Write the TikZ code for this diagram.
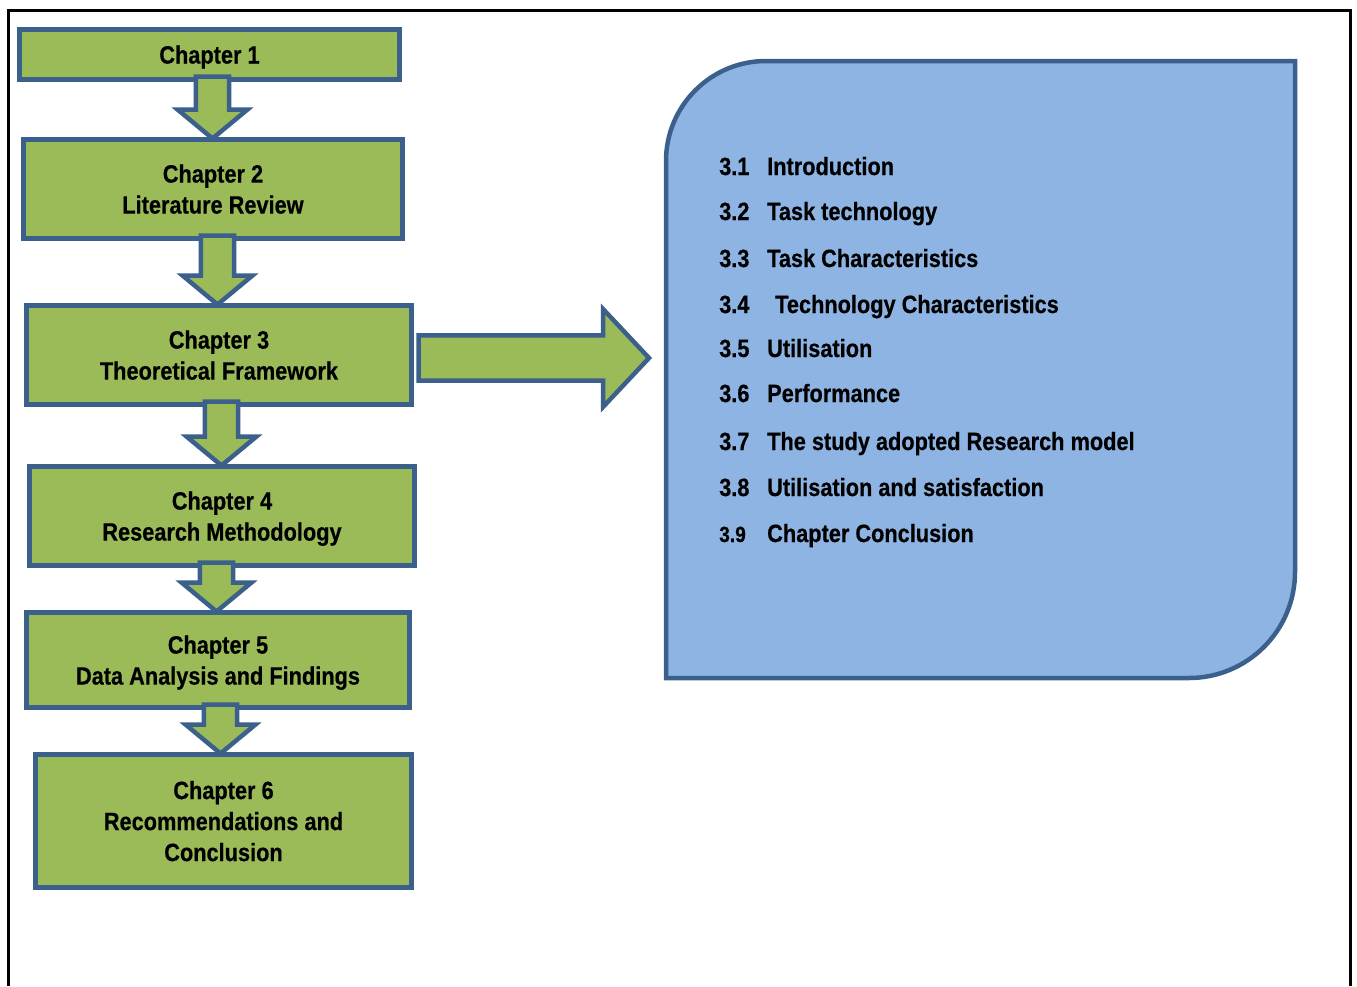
\documentclass[tikz,border=0pt]{standalone}
\usepackage{fontspec}
\setmainfont{Liberation Sans}
\newfontfamily\narrowsans{Liberation Sans}[FakeStretch=0.87,FakeBold=0.5]
\usetikzlibrary{calc}

\definecolor{leaf}{RGB}{155,187,89}
\definecolor{edge}{RGB}{60,96,140}
\definecolor{sky}{RGB}{142,180,227}

\tikzset{
  chapbox/.style={draw=edge, fill=leaf, line width=4.5pt, inner sep=0pt, outer sep=0pt,
    align=center, text depth=-3pt,
    font=\narrowsans\bfseries\fontsize{25}{31}\selectfont},
  blockarrow/.style={draw=edge, fill=leaf, line width=4.5pt, line join=miter},
  sectpanel/.style={draw=edge, fill=sky, line width=4.5pt},
  sectnum/.style={anchor=base west, inner sep=0pt, font=\narrowsans\bfseries\fontsize{25}{30}\selectfont},
  sectnumsmall/.style={sectnum, font=\narrowsans\bfseries\fontsize{22}{26}\selectfont},
  secttext/.style={sectnum},
  pageframe/.style={draw=black, line width=2.5pt},
}

% block arrow pointing down from one chapter box to the next (#3: horizontal shift)
\newcommand{\dropblock}[3]{%
  \draw[blockarrow] let \p1=(#1.south), \p2=(#2.north) in
    (\x1+#3-16.7pt,\y1+3pt) -- (\x1+#3+16.7pt,\y1+3pt) -- (\x1+#3+16.7pt,\y2+30pt)
    -- (\x1+#3+35pt,\y2+30pt) -- (\x1+#3,\y2+1pt) -- (\x1+#3-35pt,\y2+30pt)
    -- (\x1+#3-16.7pt,\y2+30pt) -- cycle;}

\begin{document}
\begin{tikzpicture}[x=1pt,y=-1pt]
\useasboundingbox (0,0) rectangle (1357,986);

% page frame, open at the bottom
\draw[pageframe] (8.5,986) -- (8.5,10.5) -- (1350.3,10.5) -- (1350.3,986);

% chapter boxes
\node[chapbox, minimum width=380, minimum height=50] (c1) at (209.5,54.5) {Chapter 1};
\node[chapbox, minimum width=379, minimum height=99] (c2) at (213,189) {Chapter 2\\Literature Review};
\node[chapbox, minimum width=385, minimum height=99] (c3) at (219,355) {Chapter 3\\Theoretical Framework};
\node[chapbox, minimum width=385, minimum height=99] (c4) at (222,516) {Chapter 4\\Research Methodology};
\node[chapbox, minimum width=383, minimum height=95] (c5) at (218,660) {Chapter 5\\Data Analysis and Findings};
\node[chapbox, minimum width=376, minimum height=133] (c6) at (223.5,821) {Chapter 6\\Recommendations and\\Conclusion};

% arrows between chapters
\dropblock{c1}{c2}{3pt}
\dropblock{c2}{c3}{4.5pt}
\dropblock{c3}{c4}{2.5pt}
\dropblock{c4}{c5}{0pt-5.5pt}
\dropblock{c5}{c6}{2.5pt}

% chapter 3 outline panel
\draw[sectpanel] (666,678) -- (666,161) .. controls (666,105.8) and (710.8,61) .. (766,61)
  -- (1295,61) -- (1295,572) .. controls (1295,630.5) and (1247.5,678) .. (1189,678) -- cycle;
\coordinate (panelw) at (666,358);

% arrow from chapter 3 to its outline
\draw[blockarrow] let \p1=(c3.east), \p2=(panelw) in
  (\x1+7pt,\y1+19.7pt) -- (\x2-63pt,\y1+19.7pt) -- (\x2-63pt,\y1+46pt) -- (\x2-17pt,\y2)
  -- (\x2-63pt,\y1-52pt) -- (\x2-63pt,\y1-25.7pt) -- (\x1+7pt,\y1-25.7pt) -- cycle;

% section list
\node[sectnum] (n1) at (719,175) {3.1};
\node[secttext] (t1) at (767,175) {Introduction};
\node[sectnum] (n2) at (719,220) {3.2};
\node[secttext] (t2) at (767,220) {Task technology};
\node[sectnum] (n3) at (719,267) {3.3};
\node[secttext] (t3) at (767,267) {Task Characteristics};
\node[sectnum] (n4) at (719,313) {3.4};
\node[secttext] (t4) at (775,313) {Technology Characteristics};
\node[sectnum] (n5) at (719,357) {3.5};
\node[secttext] (t5) at (767,357) {Utilisation};
\node[sectnum] (n6) at (719,402) {3.6};
\node[secttext] (t6) at (767,402) {Performance};
\node[sectnum] (n7) at (719,450) {3.7};
\node[secttext] (t7) at (767,450) {The study adopted Research model};
\node[sectnum] (n8) at (719,496) {3.8};
\node[secttext] (t8) at (767,496) {Utilisation and satisfaction};
\node[sectnumsmall] (n9) at (719,542) {3.9};
\node[secttext] (t9) at (767,542) {Chapter Conclusion};
\end{tikzpicture}
\end{document}
